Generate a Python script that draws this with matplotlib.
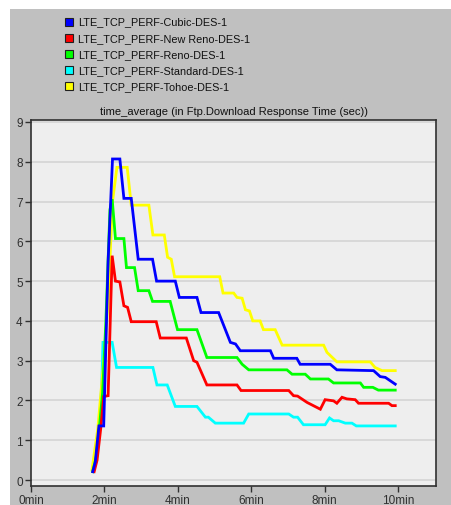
import matplotlib
matplotlib.use("Agg")
import matplotlib.pyplot as plt
from matplotlib.patches import Rectangle

plt.rcParams['font.family'] = ['Liberation Sans', 'DejaVu Sans']

# time in minutes, response time in seconds (step-like series)
cubic_t = [1.68, 1.75, 1.85, 1.98, 2.10, 2.22, 2.30, 2.42, 2.53, 2.73, 2.92, 3.31, 3.42, 3.93, 4.04,
           4.52, 4.63, 5.11, 5.43, 5.57, 5.70, 6.52, 6.61, 7.24, 7.33, 8.15, 8.33, 9.33, 9.51, 9.65, 9.92]
cubic_v = [0.21, 0.45, 1.36, 1.36, 5.5, 8.07, 8.07, 8.07, 7.08, 7.08, 5.55, 5.55, 5.0, 5.0, 4.59,
           4.59, 4.21, 4.21, 3.46, 3.42, 3.25, 3.25, 3.06, 3.06, 2.91, 2.91, 2.77, 2.75, 2.6, 2.58, 2.41]

newreno_t = [1.72, 1.80, 1.90, 1.98, 2.10, 2.21, 2.30, 2.42, 2.53, 2.63, 2.73, 3.41, 3.52, 4.23, 4.43,
             4.52, 4.79, 5.61, 5.72, 7.02, 7.15, 7.26, 7.52, 7.88, 8.01, 8.24, 8.33, 8.47, 8.60, 8.83,
             8.92, 9.74, 9.83, 9.92]
newreno_v = [0.21, 0.5, 1.3, 2.1, 2.12, 5.64, 5.0, 4.98, 4.38, 4.34, 3.98, 3.98, 3.57, 3.57, 3.0,
             2.96, 2.39, 2.39, 2.25, 2.25, 2.12, 2.11, 1.95, 1.78, 2.02, 1.99, 1.93, 2.08, 2.04, 2.02,
             1.93, 1.93, 1.87, 1.87]

reno_t = [1.68, 1.78, 1.87, 1.95, 2.04, 2.15, 2.21, 2.30, 2.53, 2.60, 2.82, 2.92, 3.21, 3.31, 3.79,
          3.99, 4.52, 4.79, 5.61, 5.75, 5.93, 6.97, 7.11, 7.47, 7.61, 8.10, 8.24, 8.97, 9.06, 9.31,
          9.46, 9.92]
reno_v = [0.21, 0.6, 1.4, 2.2, 4.0, 6.8, 7.06, 6.07, 6.07, 5.34, 5.34, 4.76, 4.76, 4.49, 4.49,
          3.78, 3.78, 3.08, 3.08, 2.91, 2.77, 2.77, 2.66, 2.66, 2.54, 2.54, 2.44, 2.44, 2.33, 2.33,
          2.26, 2.26]

standard_t = [1.70, 1.80, 1.87, 1.93, 1.96, 2.21, 2.33, 3.32, 3.43, 3.71, 3.93, 4.52, 4.75, 4.83,
              5.02, 5.79, 5.93, 7.02, 7.15, 7.26, 7.42, 8.01, 8.13, 8.24, 8.38, 8.56, 8.74, 8.86, 9.92]
standard_v = [0.21, 0.6, 1.3, 2.5, 3.46, 3.46, 2.83, 2.83, 2.39, 2.39, 1.85, 1.85, 1.58, 1.58,
              1.43, 1.43, 1.66, 1.66, 1.58, 1.58, 1.39, 1.39, 1.56, 1.49, 1.49, 1.43, 1.43, 1.36, 1.36]

tohoe_t = [1.66, 1.82, 2.00, 2.10, 2.22, 2.34, 2.62, 2.73, 3.21, 3.32, 3.63, 3.72, 3.82, 3.91, 5.14,
           5.23, 5.52, 5.61, 5.75, 5.84, 5.95, 6.04, 6.24, 6.33, 6.65, 6.84, 7.97, 8.06, 8.33, 9.24,
           9.37, 9.56, 9.92]
tohoe_v = [0.25, 1.3, 3.2, 4.5, 7.0, 7.86, 7.86, 6.91, 6.91, 6.16, 6.16, 5.6, 5.55, 5.11, 5.11,
           4.70, 4.70, 4.59, 4.57, 4.28, 4.25, 4.0, 4.0, 3.78, 3.78, 3.39, 3.39, 3.21, 2.97, 2.97,
           2.83, 2.75, 2.75]

names = ['LTE_TCP_PERF-Cubic-DES-1', 'LTE_TCP_PERF-New Reno-DES-1', 'LTE_TCP_PERF-Reno-DES-1',
         'LTE_TCP_PERF-Standard-DES-1', 'LTE_TCP_PERF-Tohoe-DES-1']
colors = ['#0000ff', '#ff0000', '#00ff00', '#00ffff', '#ffff00']

fig = plt.figure(figsize=(4.51, 5.06), dpi=100)
fig.patch.set_facecolor('white')
W, H = 451, 506
# grey panel behind everything
fig.patches.append(Rectangle((10 / W, 0), 1, 1 - 10 / H, transform=fig.transFigure,
                             facecolor='#c0c0c0', edgecolor='none', zorder=-5))

ax = fig.add_axes([31 / W, (H - 487) / H, (436 - 31) / W, (487 - 121) / H])
ax.set_facecolor('#eeeeee')

# drawing order: cyan, yellow, green, red, blue on top
series = [(standard_t, standard_v, 3), (tohoe_t, tohoe_v, 4), (reno_t, reno_v, 2),
          (newreno_t, newreno_v, 1), (cubic_t, cubic_v, 0)]
for t, v, ci in series:
    ax.plot(t, v, color=colors[ci], lw=2.0, solid_joinstyle='miter')

ax.set_xlim(0, 11.03)
ax.set_ylim(-0.15, 9.05)
ax.set_yticks(range(0, 10))
ax.set_xticks([0, 2, 4, 6, 8, 10])
ax.set_xticklabels(['0min', '2min', '4min', '6min', '8min', '10min'])
ax.yaxis.grid(True, color='#d4d4d4', lw=1.2)
ax.set_axisbelow(True)
ax.tick_params(direction='out', length=4, width=1, labelsize=8.5, colors='#303030',
               labelcolor='#303030', pad=2)
for s in ax.spines.values():
    s.set_color('#303030')
    s.set_linewidth(1.2)

ax.set_title('time_average (in Ftp.Download Response Time (sec))', fontsize=8, pad=4,
             color='#101010')

# legend drawn by hand, like the tool's own
for i, (name, c) in enumerate(zip(names, colors)):
    yc = 22.5 + 16.2 * i
    fig.patches.append(Rectangle((65 / W, 1 - (yc + 4) / H), 8 / W, 8 / H,
                                 transform=fig.transFigure, facecolor=c,
                                 edgecolor='#202020', lw=0.8, zorder=2))
    fig.text(78 / W, 1 - yc / H, name, fontsize=7.8, va='center', ha='left', color='#101010')

fig.savefig('out.png', dpi=100, facecolor=fig.get_facecolor())
